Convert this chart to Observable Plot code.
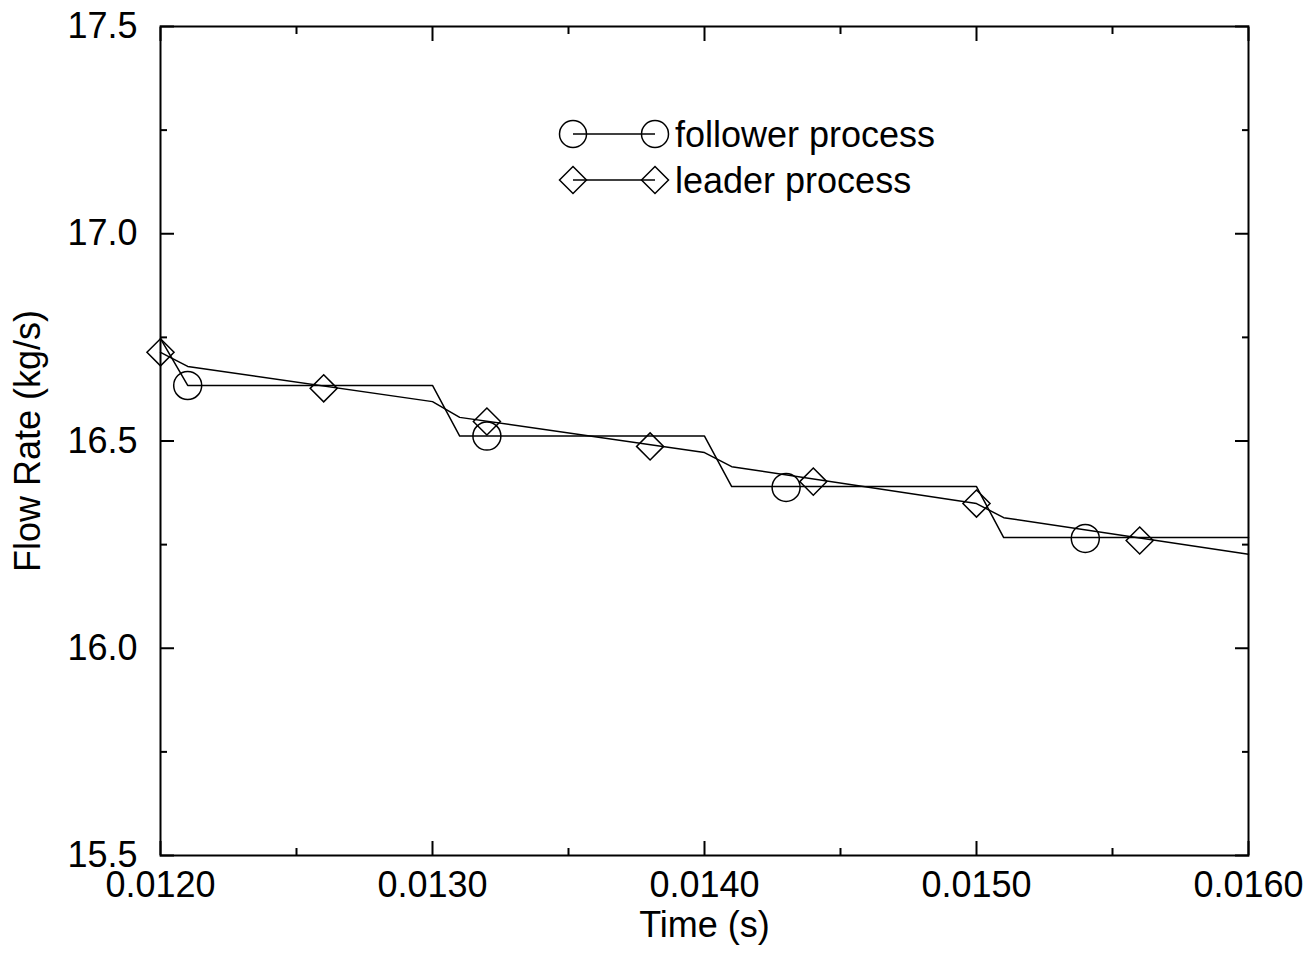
<!DOCTYPE html>
<html><head><meta charset="utf-8">
<script src="https://cdn.jsdelivr.net/npm/d3@7"></script>
<script src="https://cdn.jsdelivr.net/npm/@observablehq/plot@0.6"></script>
<style>
body{margin:0;background:#fff;}
#wrap{position:relative;width:1310px;height:953px;}
svg{font-family:"Liberation Sans",Arial,sans-serif;}
</style></head><body><div id="wrap"></div>
<script>
// Follower process (step-like line) vertices
const followerTime = [0.0120, 0.0121, 0.0130, 0.0131, 0.0140, 0.0141, 0.0150, 0.0151, 0.0160];
const followerFlow = [16.747, 16.634, 16.634, 16.512, 16.512, 16.390, 16.390, 16.267, 16.267];
// Leader process line vertices
const leaderTime = [0.0120, 0.0121, 0.0130, 0.0131, 0.0140, 0.0141, 0.0150, 0.0151, 0.0160];
const leaderFlow = [16.714, 16.680, 16.595, 16.557, 16.472, 16.438, 16.349, 16.315, 16.227];
// Marker positions
const followerMarkTime = [0.0121, 0.0132, 0.0143, 0.0154];
const followerMarkFlow = [16.634, 16.512, 16.388, 16.265];
const leaderMarkTime = [0.0120, 0.0126, 0.0132, 0.0138, 0.0144, 0.0150, 0.0156];
const leaderMarkFlow = [16.714, 16.627, 16.547, 16.487, 16.402, 16.349, 16.260];
// Ticks
const xMajor = [0.012, 0.013, 0.014, 0.015, 0.016];
const xMinor = [0.0125, 0.0135, 0.0145, 0.0155];
const yMajor = [15.5, 16.0, 16.5, 17.0, 17.5];
const yMinor = [15.75, 16.25, 16.75, 17.25];
const seriesNames = ["follower process", "leader process"];
const xLabel = "Time (s)";
const yLabel = "Flow Rate (kg/s)";

const zipTV = (ts, vs) => ts.map((t, i) => ({t, v: vs[i]}));
const follower = zipTV(followerTime, followerFlow);
const leader = zipTV(leaderTime, leaderFlow);
const followerMarks = zipTV(followerMarkTime, followerMarkFlow);
const leaderMarks = zipTV(leaderMarkTime, leaderMarkFlow);

const FS = 36;
const tickCommon = {label: null, stroke: "black", strokeWidth: 2};
const hidden = {fill: "none"};

const chart = Plot.plot({
  width: 1310, height: 953,
  marginLeft: 160, marginRight: 62, marginTop: 26, marginBottom: 98,
  style: {fontFamily: '"Liberation Sans", Arial, sans-serif', fontSize: FS + "px", background: "white", color: "black"},
  x: {domain: [0.012, 0.016]},
  y: {domain: [15.5, 17.5]},
  marks: [
    Plot.axisX(xMajor, {...tickCommon, anchor: "bottom", tickSize: -14, tickPadding: 30, tickFormat: d3.format(".4f"), fontSize: FS, lineAnchor: "top"}),
    Plot.axisX(xMinor, {...tickCommon, ...hidden, anchor: "bottom", tickSize: -7, tickFormat: () => ""}),
    Plot.axisX(xMajor, {...tickCommon, ...hidden, anchor: "top", tickSize: -14, tickFormat: () => ""}),
    Plot.axisX(xMinor, {...tickCommon, ...hidden, anchor: "top", tickSize: -7, tickFormat: () => ""}),
    Plot.axisY(yMajor, {...tickCommon, anchor: "left", tickSize: -14, tickPadding: 37, tickFormat: d3.format(".1f"), fontSize: FS}),
    Plot.axisY(yMinor, {...tickCommon, ...hidden, anchor: "left", tickSize: -7, tickFormat: () => ""}),
    Plot.axisY(yMajor, {...tickCommon, ...hidden, anchor: "right", tickSize: -14, tickFormat: () => ""}),
    Plot.axisY(yMinor, {...tickCommon, ...hidden, anchor: "right", tickSize: -7, tickFormat: () => ""}),
    Plot.frame({stroke: "black", strokeWidth: 2}),
    Plot.line(follower, {x: "t", y: "v", stroke: "black", strokeWidth: 1.5}),
    Plot.line(leader, {x: "t", y: "v", stroke: "black", strokeWidth: 1.5}),
    Plot.dot(followerMarks, {x: "t", y: "v", r: 14, symbol: "circle", stroke: "black", fill: "none", strokeWidth: 1.5}),
    Plot.dot(leaderMarks, {x: "t", y: "v", r: 12.2, symbol: "diamond2", stroke: "black", fill: "none", strokeWidth: 1.5}),
    Plot.text([xLabel], {frameAnchor: "bottom", dy: 81, textAnchor: "middle", fontSize: FS, fill: "black"}),
    Plot.text([yLabel], {frameAnchor: "left", dx: -132, rotate: -90, textAnchor: "middle", fontSize: FS, fill: "black"})
  ]
});
document.getElementById("wrap").appendChild(chart);

// Legend drawn on top of the chart
const svg = d3.select(chart);
const lg = svg.append("g").attr("stroke", "black").attr("fill", "none").attr("stroke-width", 1.5);
const rowY = [134, 180];
const x0 = 573, x1 = 655;
seriesNames.forEach((name, i) => {
  const y = rowY[i];
  lg.append("line").attr("x1", x0).attr("x2", x1).attr("y1", y).attr("y2", y);
  [x0, x1].forEach(cx => {
    if (i === 0) lg.append("circle").attr("cx", cx).attr("cy", y).attr("r", 13.5);
    else lg.append("path").attr("d", `M${cx},${y-13.5}L${cx+13.5},${y}L${cx},${y+13.5}L${cx-13.5},${y}Z`);
  });
  svg.append("text").attr("x", 675).attr("y", y + 13).attr("font-size", FS)
    .attr("text-anchor", "start")
    .attr("font-family", '"Liberation Sans", Arial, sans-serif').attr("fill", "black").text(name);
});
</script>
</body></html>
